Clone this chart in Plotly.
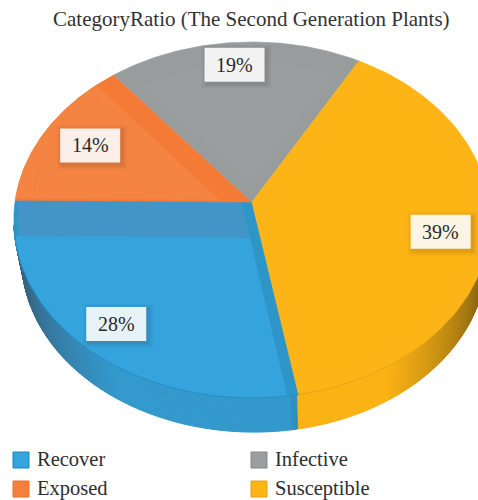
import numpy as np
import plotly.graph_objects as go

# Category shares of the second generation plants (percent)
categories = ["Recover", "Exposed", "Infective", "Susceptible"]
shares = [28, 14, 19, 39]
colors = ["#35a3dc", "#f5803e", "#9b9e9e", "#fdb515"]
swatch_edges = ["#1a86c4", "#ee6f2c", "#85888b", "#e0a020"]
title_text = "CategoryRatio (The Second Generation Plants)"

# Projection of the tilted disc onto the page
CX, CY = 252, 202
A, B, P = 237, 176.2, 0.101
SHRINK, DROP, SHIFT = 0.975, 39, 2
START = 169.8

# Label anchors on the disc: angle offset from the slice middle and radius
LABEL_ANCHOR = [(-0.6, 0.84), (-0.6, 0.78), (-0.6, 0.85), (2.4, 0.80)]
FONT = "Liberation Serif"


def project(theta, r=1.0):
    t = np.radians(theta)
    w = 1 + P * r * np.cos(t)
    return CX + A * r * np.sin(t) / w, CY - B * r * np.cos(t) / w


def project_plan(u, v):
    w = 1 + P * v
    return CX + A * u / w, CY - B * v / w


def lower(theta):
    x, y = project(theta)
    return CX + SHIFT + SHRINK * (x - CX), CY + DROP + SHRINK * (y - CY)


def wedge(t1, t2, r=1.0, inset1=0.0, inset2=0.0):
    a1, a2 = np.radians(t1), np.radians(t2)
    n1 = [np.cos(a1), -np.sin(a1)]
    n2 = [-np.cos(a2), np.sin(a2)]
    apex_u, apex_v = np.linalg.solve(np.array([n1, n2]), np.array([inset1, inset2]))
    ts = np.linspace(t1 + np.degrees(np.arcsin(inset1 / r)),
                     t2 - np.degrees(np.arcsin(inset2 / r)), 90)
    xs, ys = project(ts, r)
    ax, ay = project_plan(apex_u, apex_v)
    return np.r_[ax, xs, ax], np.r_[ay, ys, ay]


def poly(xs, ys, color, width=0.6):
    return go.Scatter(x=xs, y=ys, mode="lines", fill="toself", fillcolor=color,
                      line=dict(color=color, width=width), hoverinfo="skip",
                      showlegend=False)


def curve(xs, ys, color, width):
    return go.Scatter(x=xs, y=ys, mode="lines", line=dict(color=color, width=width),
                      hoverinfo="skip", showlegend=False)


def mix(c1, c2, f):
    a = [int(c1[i:i + 2], 16) for i in (1, 3, 5)]
    b = [int(c2[i:i + 2], 16) for i in (1, 3, 5)]
    return "rgb(%d,%d,%d)" % tuple(a[i] + (b[i] - a[i]) * f for i in range(3))


edges = START + np.r_[0, np.cumsum(shares)] * 3.6
fig = go.Figure()


# Side wall of the disc, shaded darker towards the two ends
def wall_color(theta):
    if theta > edges[0] + 1.5:
        f = np.clip((theta - 212) / 40, 0, 1)
        return mix("#3399cd", "#37627f", f)
    if theta > edges[0] - 0.01:
        return "#2f8fc2"
    f = np.clip((148 - theta) / 36, 0, 1)
    return mix("#fab214", "#8c6710", f)


STEP = 0.75
for t in np.arange(96, 262, STEP):
    t2 = t + STEP
    xa, ya = project(np.array([t, t2]))
    xb, yb = lower(np.array([t2, t]))
    fig.add_trace(poly(np.r_[xa, xb, xa[0]], np.r_[ya, yb, ya[0]], wall_color(t), 1))

# Recover: darker bevels along both straight edges
t1, t2 = edges[0], edges[1]
fig.add_trace(poly(*wedge(t1, t2), "#2e95c9"))
fig.add_trace(poly(*wedge(t1, t2, 0.985, 0.045, 0.0), "#4295c6"))
fig.add_trace(poly(*wedge(t1, t2, 1.0, 0.045, 0.2), colors[0]))

# Exposed: darker strip along the shared edge with Infective
t1, t2 = edges[1], edges[2]
fig.add_trace(poly(*wedge(t1, t2), "#f47b36"))
fig.add_trace(poly(*wedge(t1, t2, 1.0, 0.012, 0.1), "#f58442"))
xs, ys = project(np.linspace(t1 + 3, t2 - 8, 40), 0.93)
fig.add_trace(curve(xs, ys, "#f47f3b", 1))

# Infective
t1, t2 = edges[2], edges[3]
fig.add_trace(poly(*wedge(t1, t2), "#999c9c"))
fig.add_trace(poly(*wedge(t1, t2, 0.86, 0.06, 0.06), colors[2]))

# Susceptible
t1, t2 = edges[3] - 360, edges[0]
fig.add_trace(poly(*wedge(t1, t2), "#fcb416"))
fig.add_trace(poly(*wedge(t1, t2, 0.92, 0.09, 0.06), colors[3]))

# Seam between the disc top and its side wall
xs, ys = project(np.linspace(edges[0], 262, 60))
fig.add_trace(curve(xs, ys, "#2a8cc4", 1))
xs, ys = project(np.linspace(120, edges[0], 30))
fig.add_trace(curve(xs, ys, "#e09f18", 0.8))

shapes, annotations = [], []

# Value labels on white cards with a soft shadow
for i, (name, value) in enumerate(zip(categories, shares)):
    d, r = LABEL_ANCHOR[i]
    lx, ly = project((edges[i] + edges[i + 1]) / 2 + d, r)
    lx, ly = float(lx), float(ly)
    for grow in (5, 3.5, 2, 1):
        shapes.append(dict(type="rect", x0=lx - 30 - grow + 2, x1=lx + 30 + grow + 2,
                           y0=ly - 17 - grow + 2, y1=ly + 17 + grow + 2,
                           line_width=0, fillcolor="rgba(40,40,40,0.035)"))
    shapes.append(dict(type="rect", x0=lx - 30, x1=lx + 30, y0=ly - 17, y1=ly + 17,
                       line_width=0, fillcolor="rgba(255,255,255,0.89)"))
    annotations.append(dict(x=lx, y=ly, text=f"{value}%", showarrow=False,
                            font=dict(family=FONT, size=20, color="#2a2a2a")))

# Legend, two columns by two rows
for i, name in enumerate(categories):
    sx = 13 if i < 2 else 251
    sy = 460 if i % 2 == 0 else 489
    shapes.append(dict(type="rect", x0=sx, x1=sx + 16, y0=sy - 8, y1=sy + 8,
                       fillcolor=colors[i], line=dict(color=swatch_edges[i], width=1)))
    annotations.append(dict(x=sx + 22, y=sy - 1, text=name, showarrow=False, xanchor="left",
                            font=dict(family=FONT, size=20.5, color="#2e2e2e")))

annotations.append(dict(x=251, y=19, text=title_text, showarrow=False,
                        font=dict(family=FONT, size=21, color="#333333")))

fig.update_layout(
    width=478, height=500, margin=dict(l=0, r=0, t=0, b=0),
    paper_bgcolor="white", plot_bgcolor="white",
    xaxis=dict(range=[0, 478], visible=False, fixedrange=True),
    yaxis=dict(range=[500, 0], visible=False, fixedrange=True),
    shapes=shapes, annotations=annotations, showlegend=False,
)
fig.write_html("out.html", config=dict(displayModeBar=False))
